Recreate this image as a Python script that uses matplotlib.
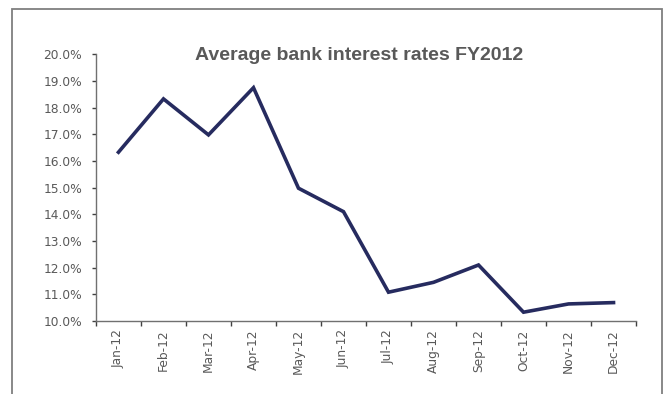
import numpy as np
import matplotlib.pyplot as plt
from matplotlib.patches import Rectangle
from matplotlib.ticker import FuncFormatter

months = ["Jan-12", "Feb-12", "Mar-12", "Apr-12", "May-12", "Jun-12",
          "Jul-12", "Aug-12", "Sep-12", "Oct-12", "Nov-12", "Dec-12"]
rates = [16.33, 18.33, 16.98, 18.75, 14.98, 14.10,
         11.08, 11.45, 12.10, 10.33, 10.64, 10.69]

grey = "#595959"

fig = plt.figure(figsize=(6.66, 3.94), dpi=100)
ax = fig.add_axes([0.1441, 0.1853, 0.955 - 0.1441, 0.862 - 0.1853])

x = np.arange(len(months))
ax.plot(x, rates, color="#262b5f", linewidth=2.6, solid_joinstyle="miter")

ax.set_xlim(-0.5, len(months) - 0.5)
ax.set_ylim(10, 20)
ax.set_yticks(np.arange(10, 20.5, 1))
ax.yaxis.set_major_formatter(FuncFormatter(lambda v, p: f"{v:.1f}%"))

ax.set_xticks(x)
ax.set_xticklabels(months, rotation=90)
ax.set_xticks(np.arange(-0.5, len(months), 1), minor=True)
ax.tick_params(axis="x", which="major", length=0, pad=6)
ax.tick_params(axis="x", which="minor", length=3.5, width=1, color="#404040", direction="out")
ax.tick_params(axis="y", length=3, width=1, color="#404040", pad=7)

for lab in ax.get_xticklabels() + ax.get_yticklabels():
    lab.set_fontfamily("DejaVu Sans")
    lab.set_fontsize(8.8)
    lab.set_color(grey)

for s in ["top", "right"]:
    ax.spines[s].set_visible(False)
for s in ["left", "bottom"]:
    ax.spines[s].set_color("#707070")
    ax.spines[s].set_linewidth(1.0)

fig.text(359 / 666, 1 - 60 / 394, "Average bank interest rates FY2012",
         ha="center", va="baseline", fontsize=14, fontweight="bold",
         family="Liberation Sans", color=grey)

# outer frame, bottom edge cut off by the image
fig.patches.append(Rectangle((12 / 666, -0.05), 650 / 666, 1.05 - 9 / 394,
                             transform=fig.transFigure, fill=False,
                             edgecolor="#7f7f7f", linewidth=1.3))

plt.savefig("out.png", dpi=100)
